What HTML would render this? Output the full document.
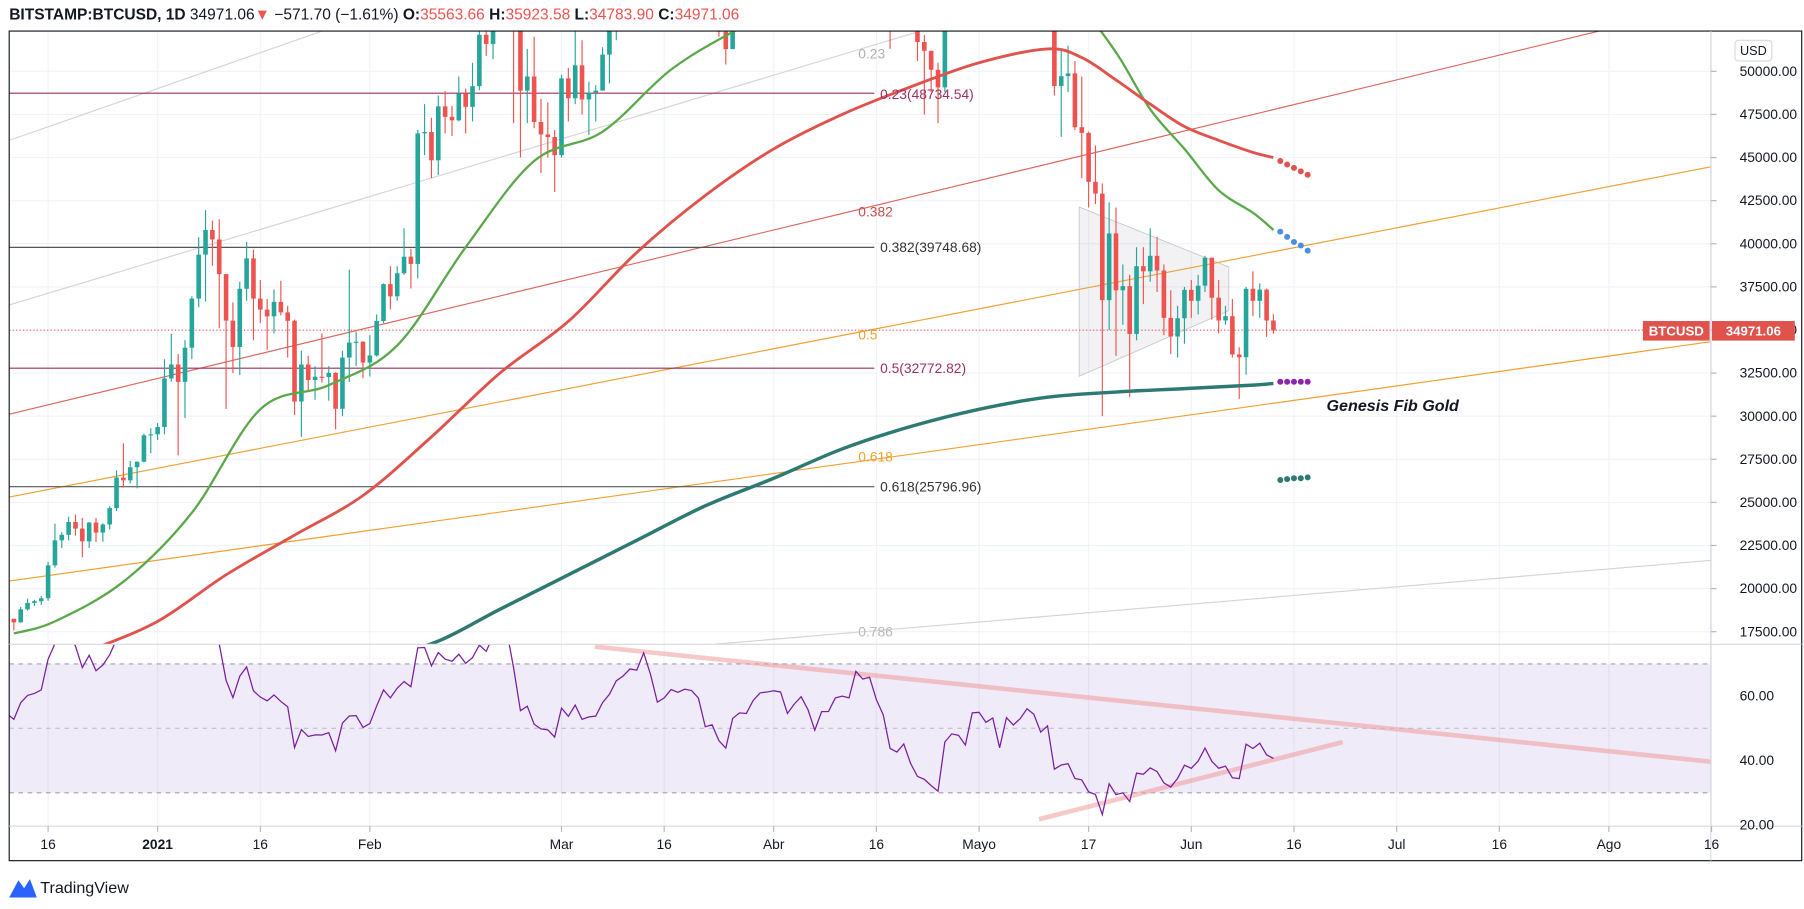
<!DOCTYPE html>
<html><head><meta charset="utf-8"><title>BTCUSD chart</title>
<style>
html,body{margin:0;padding:0;background:#fff;}
svg{display:block;font-family:"Liberation Sans",sans-serif;}
</style></head>
<body>
<svg id="chart" width="1804" height="909" viewBox="0 0 1568 790" preserveAspectRatio="none" xmlns="http://www.w3.org/2000/svg">
<defs>
<clipPath id="pc"><rect x="8" y="27" width="1479" height="533"/></clipPath>
<clipPath id="rc"><rect x="8" y="560" width="1479" height="158"/></clipPath>
</defs>
<text x="8" y="17" font-size="13.5" fill="#131722"><tspan font-weight="bold">BITSTAMP:BTCUSD, 1D</tspan> 34971.06<tspan fill="#ef5350">▼</tspan> −571.70 (−1.61%) <tspan font-weight="bold">O:</tspan><tspan fill="#ef5350">35563.66</tspan> <tspan font-weight="bold">H:</tspan><tspan fill="#ef5350">35923.58</tspan> <tspan font-weight="bold">L:</tspan><tspan fill="#ef5350">34783.90</tspan> <tspan font-weight="bold">C:</tspan><tspan fill="#ef5350">34971.06</tspan></text>
<g id="grid"></g>
<rect x="8" y="577" width="1479" height="112" fill="#7e57c2" fill-opacity="0.12"/>
<g id="draw" clip-path="url(#pc)">
<polygon points="938,180 1068,232 1068,270 938,327" fill="#9598a1" fill-opacity="0.12" stroke="#c8cad0" stroke-width="0.8"/>
<line x1="8" y1="122" x2="280" y2="27" stroke="#d4d4d4" stroke-width="1"/>
<line x1="8" y1="265" x2="800" y2="27" stroke="#d4d4d4" stroke-width="1"/>
<line x1="8" y1="360" x2="1390" y2="27" stroke="#d9675f" stroke-width="1"/>
<line x1="8" y1="432" x2="1487" y2="145" stroke="#f0a030" stroke-width="1"/>
<line x1="8" y1="505" x2="1487" y2="297" stroke="#f0a030" stroke-width="1"/>
<line x1="620" y1="560" x2="1487" y2="487" stroke="#d4d4d4" stroke-width="1"/>
<line x1="8" y1="81" x2="760" y2="81" stroke="#9c2f5f" stroke-width="1"/>
<line x1="8" y1="215" x2="760" y2="215" stroke="#555" stroke-width="1"/>
<line x1="8" y1="320" x2="760" y2="320" stroke="#9c2f5f" stroke-width="1"/>
<line x1="8" y1="423" x2="760" y2="423" stroke="#555" stroke-width="1"/>
<line x1="8" y1="287" x2="1487" y2="287" stroke="#ef5350" stroke-width="1" stroke-dasharray="1,2"/>
</g>
<g id="candles" clip-path="url(#pc)"></g>
<g id="mas" clip-path="url(#pc)"></g>
<g font-size="12">
<text x="746" y="51" fill="#b0b0b0">0.23</text>
<text x="765" y="86" fill="#9c2f5f">0.23(48734.54)</text>
<text x="746" y="188" fill="#c0504d">0.382</text>
<text x="765" y="219" fill="#333">0.382(39748.68)</text>
<text x="746" y="295" fill="#f0a030">0.5</text>
<text x="765" y="324" fill="#9c2f5f">0.5(32772.82)</text>
<text x="746" y="401" fill="#f0a030">0.618</text>
<text x="765" y="427" fill="#333">0.618(25796.96)</text>
<text x="746" y="553" fill="#b8b8b8">0.786</text>
</g>
<text x="1153" y="357" font-size="14" font-style="italic" font-weight="bold" fill="#131722">Genesis Fib Gold</text>
<g clip-path="url(#rc)">
<line x1="8" y1="577" x2="1487" y2="577" stroke="#a0a0b0" stroke-dasharray="4,4"/>
<line x1="8" y1="633" x2="1487" y2="633" stroke="#c0c0d0" stroke-dasharray="4,4"/>
<line x1="8" y1="689" x2="1487" y2="689" stroke="#a0a0b0" stroke-dasharray="4,4"/>
<line x1="517" y1="562" x2="1487" y2="662" stroke="#ef9a9a" stroke-opacity="0.55" stroke-width="4"/>
<line x1="903" y1="712" x2="1167" y2="645" stroke="#ef9a9a" stroke-opacity="0.55" stroke-width="4"/>
<polyline id="rsiLine" fill="none" stroke="#7b1fa2" stroke-width="1.1"/>
</g>
<g fill="none">
<rect x="8" y="27" width="1558" height="721" stroke="#131722" stroke-width="1"/>
<line x1="1487" y1="27" x2="1487" y2="748" stroke="#d6d8de"/>
<line x1="8" y1="560" x2="1566" y2="560" stroke="#d6d8de"/>
<line x1="8" y1="718" x2="1566" y2="718" stroke="#d6d8de"/>
</g>
<g id="yaxis" font-size="12" fill="#131722"></g>
<g id="raxis" font-size="12" fill="#131722"></g>
<g id="xaxis" font-size="12" fill="#131722"></g>
<rect x="1508" y="35" width="32" height="18" rx="3" fill="#fff" stroke="#d6d8de"/>
<text x="1524" y="48" font-size="11" text-anchor="middle" fill="#131722">USD</text>
<rect x="1428" y="279" width="58" height="17" fill="#e0534d"/>
<text x="1457" y="291.5" font-size="11.5" font-weight="bold" fill="#fff" text-anchor="middle">BTCUSD</text>
<rect x="1488" y="279" width="72" height="17" fill="#e0534d"/>
<text x="1524" y="291.5" font-size="11.5" font-weight="bold" fill="#fff" text-anchor="middle">34971.06</text>
<g>
<path d="M8 780 L16 765 L21 772 L26 764 L32 780 Z" fill="#2962ff"/>
<text x="35" y="776" font-size="14" fill="#131722">TradingView</text>
</g>
</svg>
<script>
// Daily candles starting 2020-11-15 (values in thousands USD); open of each day = previous close
const firstOpen = 16.07;
const closes = [15.96,16.73,17.68,17.80,17.82,18.68,18.70,18.42,18.37,19.16,18.72,17.15,17.14,17.72,18.18,19.70,
18.79,19.22,19.45,18.70,19.15,19.36,19.17,18.32,18.55,18.25,18.04,18.80,19.17,19.27,19.44,21.35,22.80,23.12,23.86,23.48,22.74,23.83,23.25,23.72,24.67,26.44,26.28,27.04,27.36,28.89,28.95,
29.37,32.19,33.00,31.99,33.97,36.82,39.37,40.80,40.25,38.24,35.54,34.01,37.39,39.15,36.82,36.18,35.79,36.63,36.02,35.53,30.85,33.00,32.10,32.29,32.27,32.51,30.43,33.40,34.27,34.32,33.11,
33.52,35.52,37.66,36.95,38.29,39.25,38.83,46.40,46.48,44.84,47.97,47.36,47.16,48.72,47.94,49.14,52.12,51.59,55.92,55.91,57.49,54.13,48.88,49.70,47.06,46.34,46.19,45.14,
49.59,48.44,50.35,48.37,48.76,48.88,50.97,52.38,54.88,55.86,57.33,57.22,61.19,59.00,55.65,56.44,58.01,57.69,58.24,58.10,57.35,54.09,54.34,52.30,51.29,55.03,55.84,55.77,57.62,58.79,58.92,
59.10,59.00,57.09,58.21,59.13,58.00,55.95,58.08,58.10,59.77,60.00,59.86,63.58,62.96,63.22,61.40,60.00,56.15,55.66,56.47,53.80,51.70,51.19,50.09,49.07,54.02,55.04,54.85,53.58,57.75,
57.83,56.63,57.20,53.24,57.48,56.43,57.37,58.93,58.24,55.86,56.70,49.15,49.72,49.88,46.76,46.43,43.59,42.91,36.73,40.60,37.30,37.54,34.77,38.70,38.40,39.30,38.45,35.70,34.62,35.68,37.33,
36.69,37.57,39.19,36.87,35.55,35.80,33.58,33.42,37.39,36.69,37.34,35.55,34.97];
const highs = [16.15,16.88,17.86,18.48,18.13,18.80,18.97,18.73,18.77,19.42,19.49,19.00,17.45,18.18,18.35,19.86,
19.92,19.30,19.57,19.52,19.18,19.42,19.40,19.29,18.64,18.56,18.26,18.94,19.41,19.35,19.57,21.56,23.77,23.27,24.17,24.30,24.10,23.86,24.10,23.79,24.78,26.86,28.42,27.40,27.37,28.99,29.30,
29.60,33.30,34.77,33.60,34.41,36.95,40.38,41.95,41.34,41.42,38.25,36.60,37.80,40.10,39.65,37.90,36.80,37.35,37.85,36.40,35.60,33.80,33.50,32.90,34.80,32.90,32.55,33.80,38.50,34.90,34.35,
34.70,35.90,37.70,38.70,38.70,40.90,39.70,46.60,48.10,47.30,48.60,48.85,48.00,49.70,49.00,50.50,52.50,52.50,56.30,57.50,58.30,57.50,54.20,51.30,52.00,48.40,48.20,46.60,
49.80,50.20,52.60,51.80,49.40,49.20,51.40,52.40,54.90,57.40,58.00,58.00,61.70,61.60,60.60,56.90,58.90,60.00,59.40,59.80,58.50,58.40,55.80,57.20,53.20,55.10,56.60,56.60,58.40,59.40,59.80,
59.70,60.10,59.80,58.50,59.30,59.50,58.70,58.20,58.90,61.30,60.70,61.20,63.80,64.90,63.80,63.60,62.60,60.40,57.50,57.00,56.70,55.40,52.10,51.10,50.50,54.30,55.40,56.40,55.20,57.90,
58.40,57.90,58.90,57.20,57.90,58.30,58.50,59.50,59.20,59.50,56.80,57.90,51.30,51.50,50.60,49.70,46.50,45.70,43.50,42.40,42.10,38.80,38.20,39.80,39.80,40.90,40.40,38.80,37.30,36.40,37.50,
37.90,38.20,39.30,39.20,37.90,36.40,36.80,34.00,37.50,38.40,37.70,37.40,35.92];
const lows = [15.79,15.87,16.55,17.22,17.35,17.76,18.36,17.62,18.00,18.03,18.60,16.33,16.44,16.88,17.55,18.18,
18.33,18.33,18.92,18.57,18.51,18.87,18.90,18.20,17.65,17.91,17.57,18.03,18.72,19.00,19.05,19.29,21.22,22.35,22.79,23.07,21.82,22.36,22.70,22.72,23.42,24.50,25.86,26.10,25.82,27.32,27.85,
28.62,28.95,32.00,27.73,29.90,33.31,36.32,36.65,38.72,35.10,30.42,32.50,32.39,36.70,34.40,35.40,33.85,34.80,35.85,33.40,30.07,28.80,31.40,30.95,31.95,30.90,29.24,30.00,31.98,32.90,32.20,
32.30,33.45,35.40,36.20,36.70,38.20,37.40,37.98,45.15,43.80,43.99,46.40,46.25,47.10,46.40,47.10,48.90,50.90,50.70,54.00,55.50,47.00,45.00,47.00,46.70,44.10,45.00,43.00,
45.00,47.10,48.10,47.50,46.30,47.10,48.90,49.30,51.80,53.10,54.30,55.00,56.10,58.90,54.60,53.40,54.20,56.40,56.30,57.90,55.50,53.70,53.10,52.00,50.40,51.30,53.90,54.70,54.90,57.00,56.90,
58.40,58.90,57.00,56.50,56.90,57.40,55.50,55.70,57.70,57.90,59.20,59.40,59.80,61.30,62.00,60.00,59.70,51.30,54.20,53.50,53.60,50.60,47.50,48.80,47.00,48.80,53.30,53.90,52.40,53.10,
57.00,56.00,56.50,53.00,52.90,55.20,55.30,56.90,56.20,53.40,54.40,48.60,46.20,48.80,46.60,43.80,42.10,42.30,30.00,35.00,33.50,35.30,31.10,34.40,36.50,37.80,37.20,34.70,33.60,33.40,34.20,
35.70,35.90,37.20,35.60,34.80,35.30,33.40,31.00,32.40,35.80,35.70,34.60,34.78];
// Moving averages (day offset from 2021-01-01, value in thousands)
const greenDays = [-21,-15,-5,5,15,25,35,45,55,65,75,85,95,105,115,125,135,140,145,150,155,160,163];
const greenVals = [17.4,18.1,20.4,24.4,30.4,31.8,34.1,39.8,44.8,46.5,50.1,52.5,54.5,56,57,56.5,53.5,51.1,47.8,45.5,43.1,41.8,40.8];
const redDays = [-15,-10,0,10,20,30,40,50,60,70,80,90,100,110,120,130,135,140,145,150,155,160,163];
const redVals = [15.6,16.4,18.1,20.8,23.1,25.4,28.8,32.5,35.5,39.5,42.8,45.5,47.5,49.1,50.5,51.3,50.8,49.5,48.1,46.8,46.0,45.3,45.0];
const tealDays = [30,40,50,60,70,80,90,100,110,120,130,140,150,160,163];
const tealVals = [15.9,16.8,18.8,20.8,22.8,24.8,26.4,28.1,29.4,30.4,31.1,31.4,31.6,31.8,31.9];
const projDays = [164,165,166,167,168];
const projRed = [44.8,44.6,44.4,44.2,44.0];
const projBlue = [40.7,40.4,40.1,39.9,39.6];
const projPurple = [32.0,32.0,32.0,32.0,32.0];
const projTeal = [26.3,26.35,26.4,26.4,26.45];
const priceTicks = [50000,47500,45000,42500,40000,37500,35000,32500,30000,27500,25000,22500,20000,17500];
const rsiTicks = [60,40,20];
const timeDays = [-16,0,15,31,59,74,90,105,120,136,151,166,181,196,212,227];
const timeLabels = ["16","2021","16","Feb","Mar","16","Abr","16","Mayo","17","Jun","16","Jul","16","Ago","16"];

const NS = "http://www.w3.org/2000/svg";
const startOffset = -47; // 2020-11-15 relative to 2021-01-01
function xOf(d){ return 137 + d*5.95; }
function yOf(k){ return 62 + (50 - k)*14.985; }
function rsiY(v){ return 605 + (60 - v)*2.8; }
function mk(tag, attrs, parent){ const e=document.createElementNS(NS,tag); for(const k in attrs) e.setAttribute(k,attrs[k]); parent.appendChild(e); return e; }

// grid
const grid=document.getElementById('grid');
priceTicks.forEach(p=>{ const l=mk('line',{x1:8,x2:1487,y1:yOf(p/1000),y2:yOf(p/1000),stroke:'#f0f3fa'},grid);

 });
timeDays.forEach(d=>{ const l=mk('line',{x1:xOf(d),x2:xOf(d),y1:27,y2:718,stroke:'#f0f3fa'},grid);

 });

// candles
const cg=document.getElementById('candles');
closes.forEach((c,i)=>{
  const o = i===0 ? firstOpen : closes[i-1];
  const x = xOf(i+startOffset);
  const up = c>=o;
  const col = up ? '#26a69a' : '#ef5350';
  const w = mk('line',{x1:x,x2:x,y1:yOf(highs[i]),y2:yOf(lows[i]),stroke:col,'stroke-width':1},cg);
  
  
  const top=yOf(Math.max(o,c)), bot=yOf(Math.min(o,c));
  const b = mk('rect',{x:x-2,y:top,width:4,height:Math.max(1,bot-top),fill:col},cg);
  
  
});

// moving averages (smoothed with Catmull-Rom)
const mg=document.getElementById('mas');
function smoothPath(pts){
  let d='M'+pts[0][0]+','+pts[0][1];
  for(let i=0;i<pts.length-1;i++){
    const p0=pts[Math.max(0,i-1)], p1=pts[i], p2=pts[i+1], p3=pts[Math.min(pts.length-1,i+2)];
    const c1x=p1[0]+(p2[0]-p0[0])/6, c1y=p1[1]+(p2[1]-p0[1])/6;
    const c2x=p2[0]-(p3[0]-p1[0])/6, c2y=p2[1]-(p3[1]-p1[1])/6;
    d+=' C'+c1x+','+c1y+' '+c2x+','+c2y+' '+p2[0]+','+p2[1];
  }
  return d;
}
function maLine(days, vals, col, w, name){
  const pts=days.map((d,i)=>[xOf(d),yOf(vals[i])]);
  const p=mk('path',{d:smoothPath(pts),fill:'none',stroke:col,'stroke-width':w,'stroke-linejoin':'round'},mg);
  
  
}
maLine(greenDays,greenVals,'#5aa84a',2,'ma-green');
maLine(redDays,redVals,'#e0534d',2.5,'ma-red');
maLine(tealDays,tealVals,'#2e7a72',3,'ma-teal');
function dots(vals,col,name){
  vals.forEach((v,i)=>{ const c=mk('circle',{cx:xOf(projDays[i]),cy:yOf(v),r:2.6,fill:col},mg);
  
   });
}
dots(projRed,'#e0534d','projection-dot-red');
dots(projBlue,'#4a8fe0','projection-dot-blue');
dots(projPurple,'#8e24aa','projection-dot-purple');
dots(projTeal,'#2e7a72','projection-dot-teal');

// RSI (Wilder 14) from closes
let ag=0, al=0; const rsi=[];
for(let i=1;i<closes.length;i++){
  const ch=closes[i]-closes[i-1], g=Math.max(ch,0), l=Math.max(-ch,0);
  if(i<=14){ ag+=g/14; al+=l/14; if(i<14) continue; }
  else { ag=(ag*13+g)/14; al=(al*13+l)/14; }
  rsi.push([i, al===0?100:100-100/(1+ag/al)]);
}
document.getElementById('rsiLine').setAttribute('points', rsi.map(([i,v])=>xOf(i+startOffset)+','+rsiY(v)).join(' '));

// axes
const ya=document.getElementById('yaxis');
priceTicks.forEach(p=>{ const t=mk('text',{x:1512,y:yOf(p/1000)+4},ya); t.textContent=p.toFixed(2);


const k=mk('line',{x1:1487,x2:1492,y1:yOf(p/1000),y2:yOf(p/1000),stroke:'#b2b5be'},ya);

 });
const ra=document.getElementById('raxis');
rsiTicks.forEach(v=>{ const t=mk('text',{x:1512,y:rsiY(v)+4},ra); t.textContent=v.toFixed(2);

 });
const xa=document.getElementById('xaxis');
timeDays.forEach((d,i)=>{ const t=mk('text',{x:xOf(d),y:738,'text-anchor':'middle'},xa); t.textContent=timeLabels[i];
if(timeLabels[i]==='2021') t.setAttribute('font-weight','bold');


const k=mk('line',{x1:xOf(d),x2:xOf(d),y1:718,y2:723,stroke:'#b2b5be'},xa);

 });
</script>
</body></html>
